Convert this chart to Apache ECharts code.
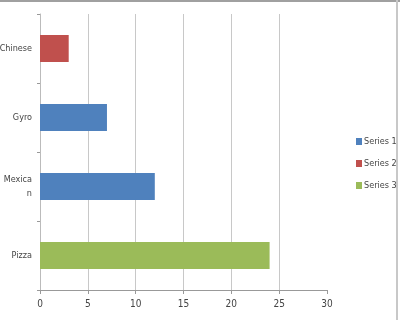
<!DOCTYPE html>
<html><head><meta charset="utf-8">
<script src="https://cdn.jsdelivr.net/npm/echarts@6/dist/echarts.min.js"></script>
<style>html,body{margin:0;padding:0;background:#fff}#c{width:400px;height:320px}</style>
</head><body><div id="c"></div>
<script>
const categories = ['Pizza', 'Mexican', 'Gyro', 'Chinese'];
const series1 = [null, 12, 7, null];
const series2 = [null, null, null, 3];
const series3 = [24, null, null, null];
const seriesNames = ['Series 1', 'Series 2', 'Series 3'];
const colors = ['#4f81bd', '#c0504d', '#9bbb59'];
const font = "'Liberation Sans Narrow', 'DejaVu Sans Condensed', 'Liberation Sans', sans-serif";

const chart = echarts.init(document.getElementById('c'), null, {renderer: 'canvas'});
const data = [series1, series2, series3];
chart.setOption({
  animation: false,
  color: colors,
  grid: {left: 40, right: 73, top: 14, bottom: 30, containLabel: false, outerBoundsMode: 'none'},
  legend: {
    orient: 'vertical', left: 351, top: 132, itemWidth: 6, itemHeight: 7, itemGap: 13,
    icon: 'rect', textStyle: {fontFamily: font, fontSize: 9, color: '#444', padding: [0,0,0,-3]},
    data: seriesNames
  },
  xAxis: {
    type: 'value', min: 0, max: 30, interval: 5,
    axisLine: {show: true, lineStyle: {color: '#999', width: 1}},
    axisTick: {show: true, length: 4, lineStyle: {color: '#999'}},
    axisLabel: {fontFamily: font, fontSize: 10, color: '#444', margin: 9},
    splitLine: {show: true, showMinLine: false, showMaxLine: false, lineStyle: {color: '#c8c8c8'}}
  },
  yAxis: {
    type: 'category', data: categories,
    axisLine: {show: true, lineStyle: {color: '#bbb'}},
    axisTick: {show: true, length: 3, lineStyle: {color: '#999'}},
    axisLabel: {fontFamily: font, fontSize: 9, color: '#444', margin: 8, lineHeight: 14,
      formatter: v => v === 'Mexican' ? 'Mexica\nn' : v}
  },
  series: data.map((d, i) => ({
    name: seriesNames[i], type: 'bar', stack: 'all', data: d, barWidth: 27
  })),
  graphic: [
    {type: 'rect', shape: {x: 0, y: 0, width: 400, height: 2}, style: {fill: '#a0a0a0'}, silent: true},
    {type: 'rect', shape: {x: 396, y: 0, width: 2, height: 320}, style: {fill: '#c8c8c8'}, silent: true}
  ]
});
</script></body></html>
